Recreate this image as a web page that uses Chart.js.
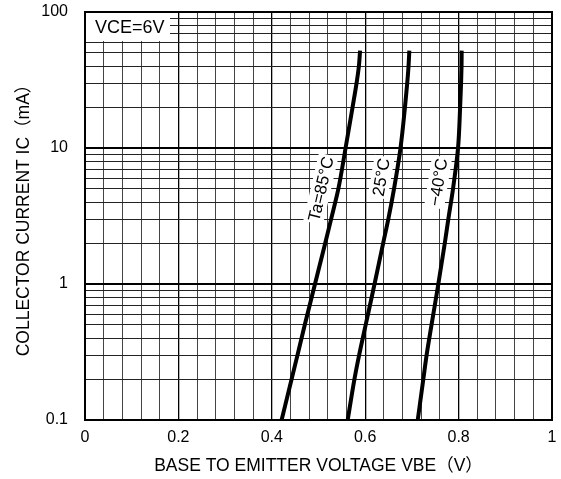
<!DOCTYPE html>
<html>
<head>
<meta charset="utf-8">
<script src="https://cdn.jsdelivr.net/npm/chart.js@4.4.1/dist/chart.umd.min.js"></script>
<style>
  html, body { margin: 0; padding: 0; background: #fff; }
  #c { display: block; }
</style>
</head>
<body>
<canvas id="c" width="561" height="479"></canvas>
<script>
// Collector current (mA) sample points shared by all curves
const currentsMA = [0.1, 0.2, 0.3, 0.5, 1, 2, 3, 5, 10, 20, 30, 40, 52];
// Base-emitter voltage (V) at each current, per ambient temperature
const vbeTa85  = [0.421, 0.4425, 0.455, 0.4705, 0.4925, 0.5145, 0.527, 0.5425, 0.558, 0.573, 0.5815, 0.5865, 0.589];
const vbeTa25  = [0.5625, 0.577, 0.587, 0.601, 0.620, 0.6385, 0.6495, 0.6617, 0.6756, 0.6852, 0.690, 0.6928, 0.6945];
const vbeTaM40 = [0.7125, 0.7245, 0.7315, 0.742, 0.7566, 0.7705, 0.778, 0.788, 0.7988, 0.8033, 0.8053, 0.8063, 0.8066];

// Axis tick values and labels
const xTickValues = [0, 0.04, 0.08, 0.12, 0.16, 0.2, 0.24, 0.28, 0.32, 0.36, 0.4, 0.44, 0.48, 0.52, 0.56,
                     0.6, 0.64, 0.68, 0.72, 0.76, 0.8, 0.84, 0.88, 0.92, 0.96, 1];
const xLabelValues = [0, 0.2, 0.4, 0.6, 0.8, 1];
const xLabelTexts  = ['0', '0.2', '0.4', '0.6', '0.8', '1'];
const yDecades     = [0.1, 1, 10, 100];
const yLabelTexts  = ['0.1', '1', '10', '100'];
const yMultipliers = [1, 2, 3, 4, 5, 6, 7, 8, 9];

// Curve captions: text, anchor (V, mA), rotation in degrees
const curveCaptions = ['Ta=85°C', '25°C', '−40°C'];
const captionVbe    = [0.505, 0.634, 0.756];
const captionIc     = [5.0, 6.1, 5.6];
const captionAngle  = [77, 80, 81];

const conditionText = 'VCE=6V';

const FONT = "'Liberation Sans', Arial, 'Noto Sans CJK JP', sans-serif";

function series(vbe) {
  return currentsMA.map((ic, i) => ({ x: vbe[i], y: ic }));
}

function yTickList() {
  const list = [];
  for (let d = 0; d < yDecades.length - 1; d++) {
    for (const m of yMultipliers) {
      list.push(+(yDecades[d] * m).toPrecision(3));
    }
  }
  list.push(yDecades[yDecades.length - 1]);
  return list;
}

function isDecade(v) {
  return yDecades.some(d => Math.abs(d - v) < 1e-9);
}
function isXMajor(v) {
  return xLabelValues.some(d => Math.abs(d - v) < 1e-9);
}

// keep tick labels from pushing the plot area inward
function noEdgePadding(scale) {
  scale.paddingTop = 0;
  scale.paddingBottom = 0;
  scale.paddingLeft = 0;
  scale.paddingRight = 0;
}

const lineStyle = {
  borderColor: '#000',
  borderWidth: 4,
  pointRadius: 0,
  fill: false,
  cubicInterpolationMode: 'monotone',
  borderCapStyle: 'butt'
};

// Frame, condition box and rotated curve captions
const annotations = {
  id: 'annotations',
  afterDatasetsDraw(chart) {
    const { ctx, chartArea: a, scales } = chart;
    ctx.save();
    ctx.strokeStyle = '#000';
    ctx.lineWidth = 2;
    ctx.strokeRect(a.left, a.top, a.right - a.left, a.bottom - a.top);

    // condition box
    ctx.fillStyle = '#fff';
    ctx.fillRect(a.left + 1, a.top + 1, 84, 28);
    ctx.fillStyle = '#000';
    ctx.font = '18px ' + FONT;
    ctx.textAlign = 'left';
    ctx.textBaseline = 'middle';
    ctx.fillText(conditionText, a.left + 10, a.top + 16);

    // captions
    curveCaptions.forEach((t, i) => {
      const px = scales.x.getPixelForValue(captionVbe[i]);
      const py = scales.y.getPixelForValue(captionIc[i]);
      ctx.save();
      ctx.translate(px, py);
      ctx.rotate(-captionAngle[i] * Math.PI / 180);
      ctx.font = '17px ' + FONT;
      const w = ctx.measureText(t).width;
      ctx.fillStyle = '#fff';
      ctx.fillRect(-w / 2 - 2, -10, w + 4, 20);
      ctx.fillStyle = '#000';
      ctx.textAlign = 'center';
      ctx.textBaseline = 'middle';
      ctx.fillText(t, 0, 1);
      ctx.restore();
    });
    ctx.restore();
  }
};

new Chart(document.getElementById('c'), {
  type: 'line',
  data: {
    datasets: [
      { label: 'Ta=85°C', data: series(vbeTa85), ...lineStyle },
      { label: '25°C', data: series(vbeTa25), ...lineStyle },
      { label: '−40°C', data: series(vbeTaM40), ...lineStyle }
    ]
  },
  options: {
    // current is the independent variable, so interpolate along y
    indexAxis: 'y',
    responsive: false,
    animation: false,
    devicePixelRatio: 1,
    layout: { padding: { top: 12, right: 9, left: 0, bottom: 0 } },
    plugins: { legend: { display: false }, tooltip: { enabled: false } },
    scales: {
      x: {
        type: 'linear',
        position: 'bottom',
        min: 0,
        max: 1,
        afterBuildTicks(scale) { scale.ticks = xTickValues.map(v => ({ value: v })); },
        afterFit(scale) { scale.height = 59; noEdgePadding(scale); },
        ticks: {
          autoSkip: false,
          maxRotation: 0,
          padding: 8,
          color: '#000',
          font: { family: FONT, size: 16 },
          callback(v) {
            const k = xLabelValues.findIndex(d => Math.abs(d - v) < 1e-9);
            return k >= 0 ? xLabelTexts[k] : '';
          }
        },
        grid: {
          drawTicks: false,
          color: ctx => (ctx.tick && isXMajor(ctx.tick.value)) ? '#000' : '#444',
          lineWidth: ctx => (ctx.tick && isXMajor(ctx.tick.value)) ? 1.3 : 1
        },
        border: { display: false },
        title: {
          display: true,
          text: 'BASE TO EMITTER VOLTAGE VBE（V）',
          color: '#000',
          font: { family: FONT, size: 17.5 },
          padding: { top: 0, bottom: 2 }
        }
      },
      y: {
        type: 'logarithmic',
        position: 'left',
        min: 0.1,
        max: 100,
        afterBuildTicks(scale) { scale.ticks = yTickList().map(v => ({ value: v })); },
        afterFit(scale) { scale.width = 85; noEdgePadding(scale); },
        ticks: {
          autoSkip: false,
          padding: 17,
          color: '#000',
          font: { family: FONT, size: 16 },
          callback(v) {
            const k = yDecades.findIndex(d => Math.abs(d - v) < 1e-9);
            return k >= 0 ? yLabelTexts[k] : '';
          }
        },
        grid: {
          drawTicks: false,
          color: ctx => (ctx.tick && isDecade(ctx.tick.value)) ? '#000' : '#222',
          lineWidth: ctx => (ctx.tick && isDecade(ctx.tick.value)) ? 2 : 1
        },
        border: { display: false },
        title: {
          display: true,
          text: 'COLLECTOR CURRENT IC（mA）',
          color: '#000',
          font: { family: FONT, size: 17.5 },
          padding: { top: 14, bottom: 0 }
        }
      }
    }
  },
  plugins: [annotations]
});
</script>
</body>
</html>
